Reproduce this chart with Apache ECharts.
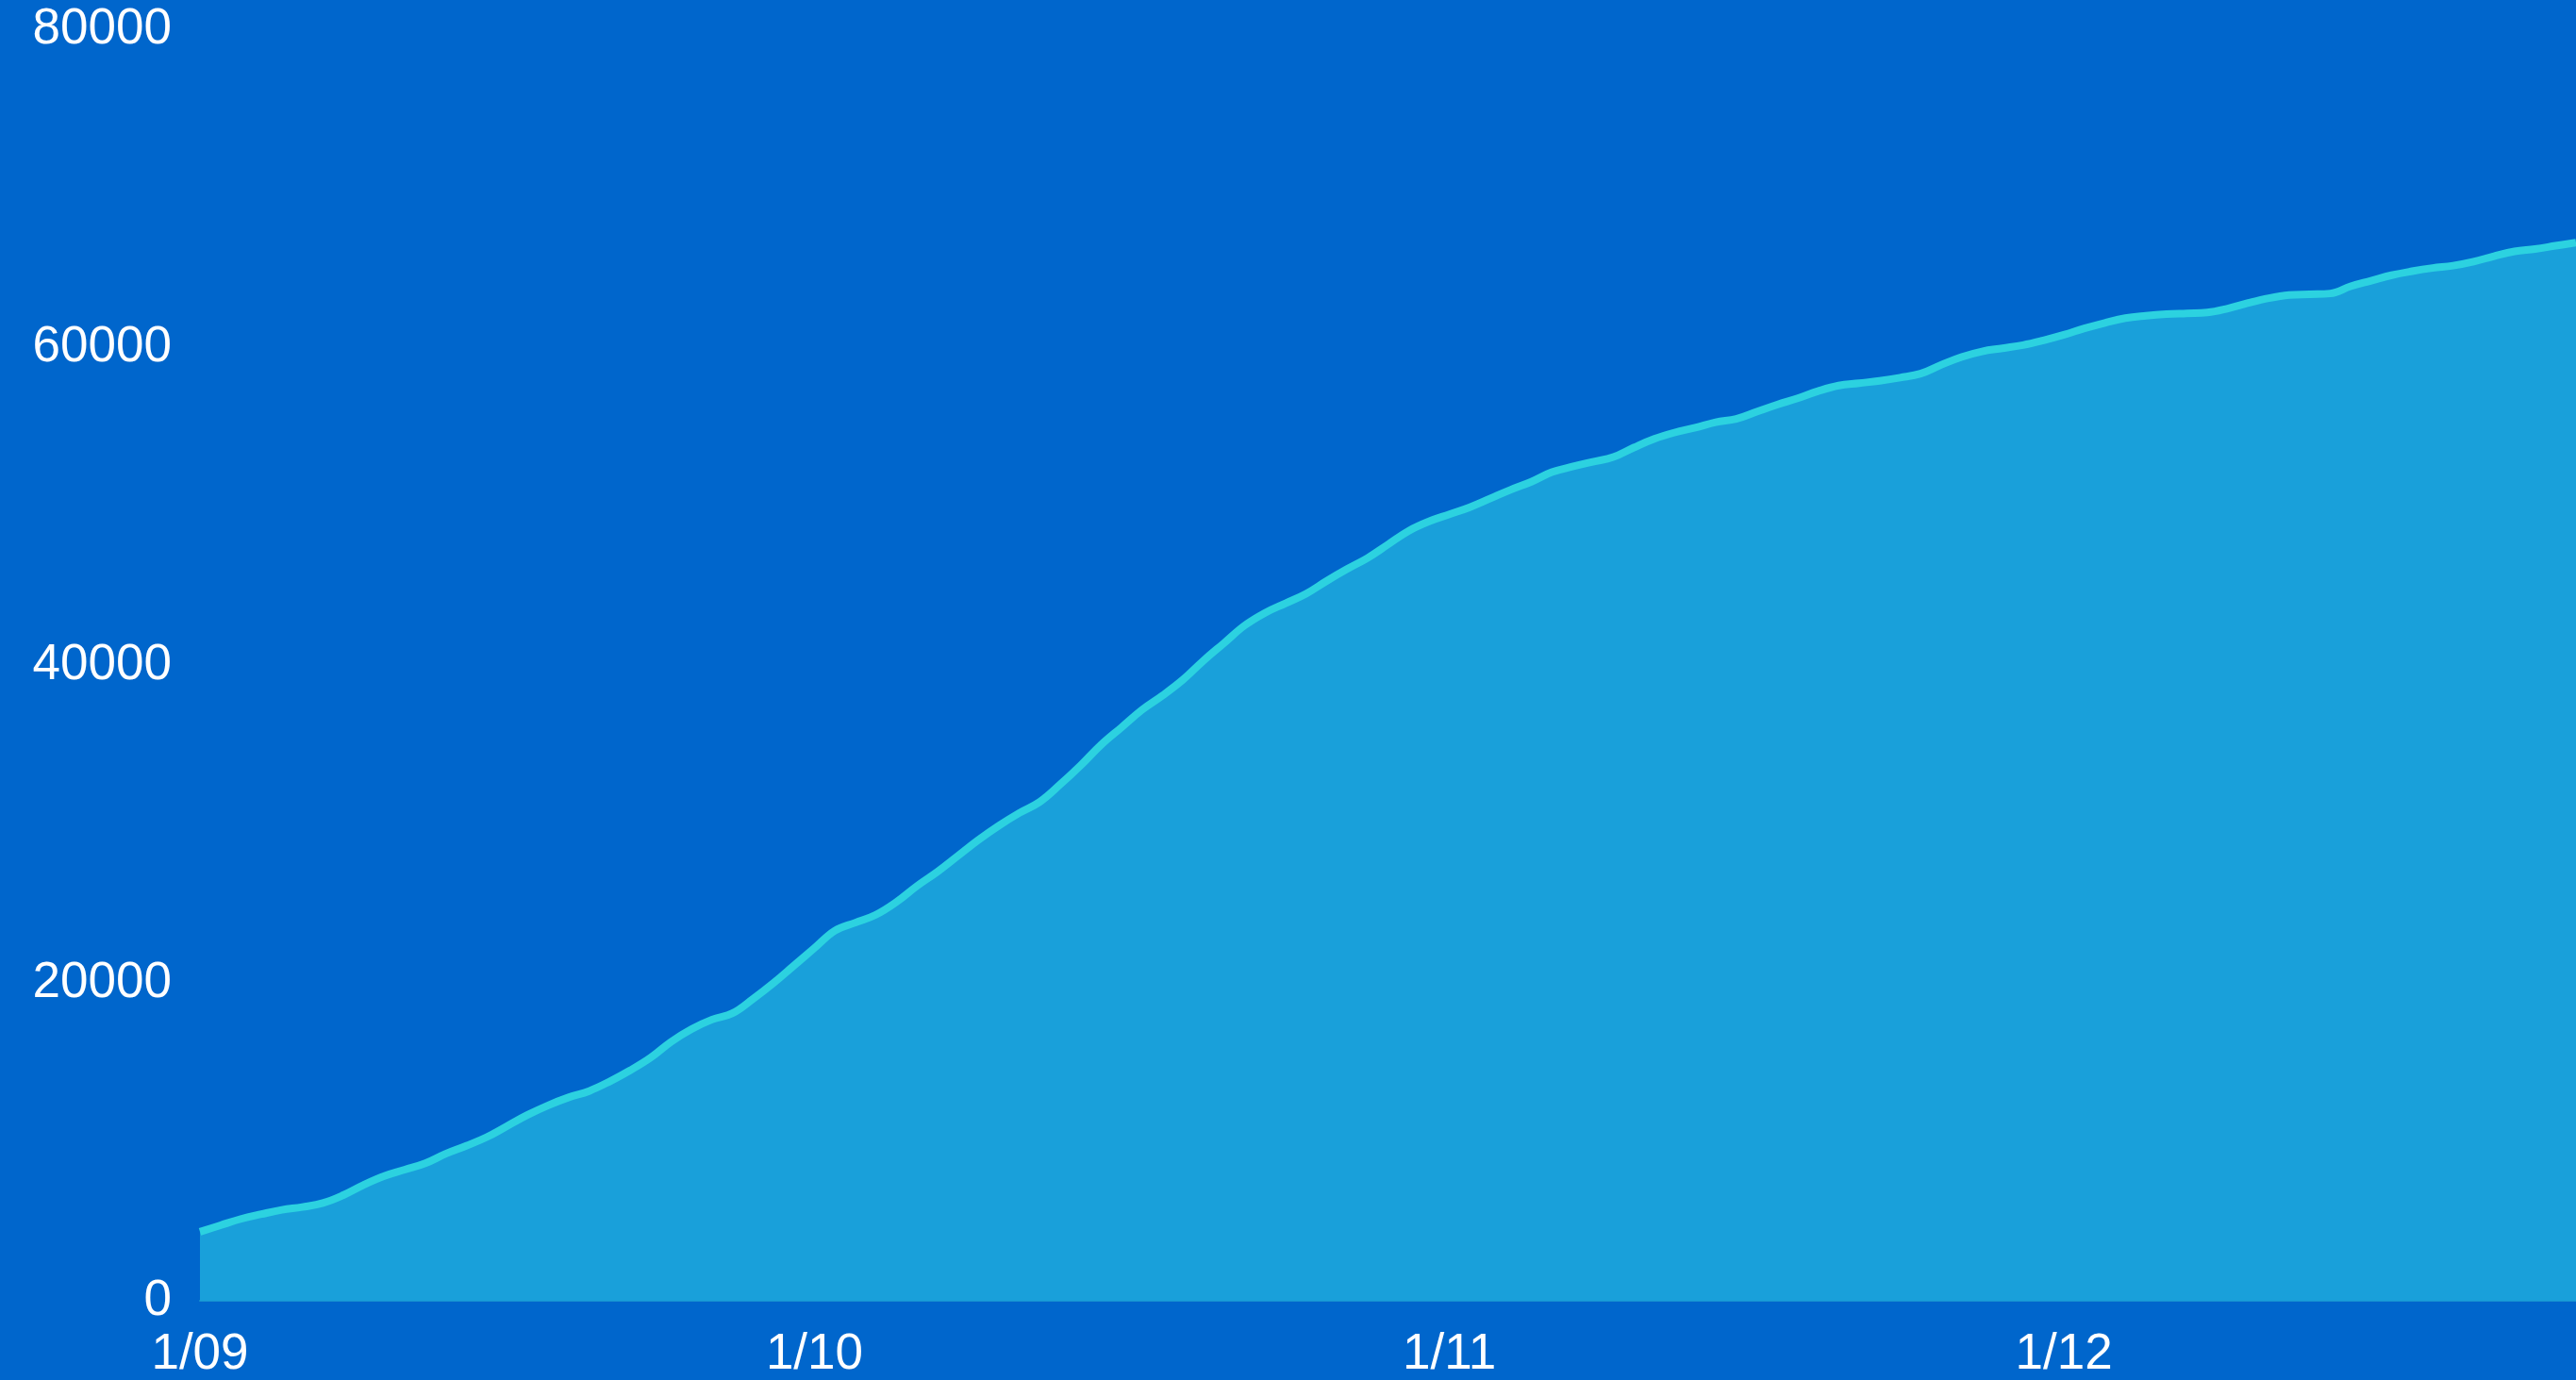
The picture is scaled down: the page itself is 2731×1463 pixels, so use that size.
<!DOCTYPE html>
<html>
<head>
<meta charset="utf-8">
<script src="https://cdn.jsdelivr.net/npm/echarts@6/dist/echarts.min.js"></script>
<style>
html,body{margin:0;padding:0;background:#0066CC;}
#chart{width:2731px;height:1463px;}
</style>
</head>
<body>
<div id="chart"></div>
<script>
// Daily dates from 1 Sep to 26 Dec (labels shown as D/MM on the 1st of each month)
const monthDays = { 9: 30, 10: 31, 11: 30, 12: 26 };
const categories = [];
for (let m = 9; m <= 12; m++) {
  for (let d = 1; d <= monthDays[m]; d++) {
    categories.push(d + '/' + (m < 10 ? '0' + m : '' + m));
  }
}

// Cumulative values (one per day)
const values = [
  4340, 4750, 5150, 5450, 5720, 5900, 6150, 6650, 7300, 7850,
  8250, 8650, 9250, 9750, 10300, 11000, 11700, 12300, 12800, 13200,
  13800, 14500, 15300, 16300, 17100, 17700, 18100, 19000, 20000, 21100,
  22200, 23300, 23800, 24300, 25100, 26100, 27000, 28000, 29000, 29900,
  30700, 31400, 32500, 33700, 35000, 36100, 37200, 38100, 39100, 40300,
  41400, 42500, 43300, 43900, 44500, 45300, 46050, 46750, 47600, 48450,
  49050, 49500, 49950, 50500, 51050, 51550, 52150, 52500, 52800, 53100,
  53700, 54250, 54650, 54950, 55300, 55500, 55950, 56400, 56800, 57250,
  57600, 57750, 57900, 58100, 58350, 58900, 59400, 59750, 59950, 60150,
  60450, 60800, 61200, 61550, 61850, 62000, 62100, 62150, 62200, 62450,
  62800, 63100, 63300, 63350, 63400, 63850, 64200, 64550, 64800, 65000,
  65150, 65400, 65750, 66050, 66200, 66400, 66600
];

const yMin = 0;
const yMax = 80000;
const yInterval = 20000;

const chart = echarts.init(document.getElementById('chart'));
chart.setOption({
  backgroundColor: '#0066CC',
  animation: false,
  grid: { left: 212, right: 0, top: 31.5, bottom: 83.5, containLabel: false },
  xAxis: {
    type: 'category',
    data: categories,
    boundaryGap: false,
    axisLine: { show: true, lineStyle: { color: '#1790cf', width: 2 } },
    axisTick: { show: false },
    splitLine: { show: false },
    axisLabel: {
      color: '#ffffff',
      fontFamily: 'Liberation Sans, Arial, sans-serif',
      fontSize: 53,
      margin: 31,
      interval: function (idx, val) { return val.indexOf('1/') === 0; }
    }
  },
  yAxis: {
    type: 'value',
    min: yMin,
    max: yMax,
    interval: yInterval,
    axisLine: { show: false },
    axisTick: { show: false },
    splitLine: { show: false },
    axisLabel: {
      color: '#ffffff',
      fontFamily: 'Liberation Sans, Arial, sans-serif',
      fontSize: 53,
      margin: 30,
      formatter: function (v) { return String(v); }
    }
  },
  series: [{
    type: 'line',
    data: values,
    smooth: 0.4,
    symbol: 'none',
    lineStyle: { color: '#2cd2e0', width: 8 },
    areaStyle: { color: '#19a0da', opacity: 1 }
  }]
});
</script>
</body>
</html>
